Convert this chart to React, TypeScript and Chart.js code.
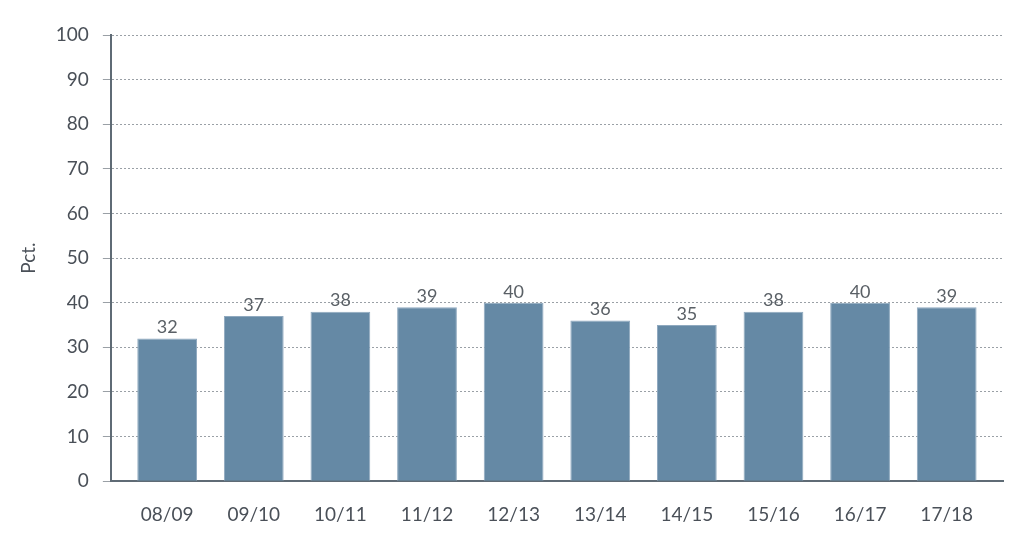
import React, { useEffect, useRef } from "react";
import { Chart, registerables } from "chart.js";

Chart.register(...registerables);

const categories = ["08/09", "09/10", "10/11", "11/12", "12/13", "13/14", "14/15", "15/16", "16/17", "17/18"];
const values = [32, 37, 38, 39, 40, 36, 35, 38, 40, 39];
const yTicks = [0, 10, 20, 30, 40, 50, 60, 70, 80, 90, 100];

const FONT = "Lato";

const labelPlugin = {
  id: "barLabels",
  afterDatasetsDraw(chart: any) {
    const ctx = chart.ctx;
    const meta = chart.getDatasetMeta(0);
    ctx.save();
    ctx.font = `18px ${FONT}`;
    ctx.fillStyle = "#5a6066";
    ctx.textAlign = "center";
    ctx.textBaseline = "bottom";
    meta.data.forEach((bar: any, i: number) => {
      ctx.fillText(String(values[i]), bar.x, bar.y - 2);
    });
    ctx.restore();
  },
};

export default function App() {
  const ref = useRef<HTMLCanvasElement | null>(null);
  useEffect(() => {
    document.body.style.margin = "0";
    const chart = new Chart(ref.current!, {
      type: "bar",
      data: {
        datasets: [
          {
            data: values.map((v, i) => ({ x: i, y: v })),
            backgroundColor: "#6589a5",
            borderColor: "#8fa9bf",
            borderWidth: 1,
            barPercentage: 0.69,
            categoryPercentage: 1,
          },
        ],
      },
      options: {
        animation: false,
        responsive: false,
        maintainAspectRatio: false,
        layout: { padding: { left: 17, right: 21, top: 35, bottom: 4 } },
        plugins: { legend: { display: false }, tooltip: { enabled: false } },
        scales: {
          x: {
            type: "linear",
            min: -0.65,
            max: categories.length - 0.35,
            offset: false,
            afterBuildTicks: (axis: any) => {
              axis.ticks = categories.map((_, i) => ({ value: i }));
            },
            grid: { display: false },
            border: { display: true, color: "#5f6b75", width: 2 },
            ticks: {
              color: "#4a5058",
              font: { family: FONT, size: 19 },
              padding: 14,
              autoSkip: false,
              maxRotation: 0,
              callback: (v: any) => categories[Math.round(Number(v))] ?? "",
            },
          },
          y: {
            min: 0,
            max: 100,
            afterBuildTicks: (axis: any) => {
              axis.ticks = yTicks.map((v) => ({ value: v }));
            },
            grid: {
              color: "#9aa0a6",
              lineWidth: 1,
              tickLength: 8,
              drawTicks: true,
            },
            border: { display: true, color: "#5f6b75", width: 2, dash: [2, 2] },
            ticks: { color: "#4a5058", font: { family: FONT, size: 19 }, padding: 14 },
            title: {
              display: true,
              text: "Pct.",
              color: "#4a5058",
              font: { family: FONT, size: 19 },
              padding: { top: 0, bottom: 2 },
            },
          },
        },
      },
      plugins: [labelPlugin],
    });
    return () => chart.destroy();
  }, []);
  return (
    <div style={{ width: 1024, height: 544 }}>
      <canvas ref={ref} width={1024} height={544} style={{ width: 1024, height: 544 }} />
    </div>
  );
}
